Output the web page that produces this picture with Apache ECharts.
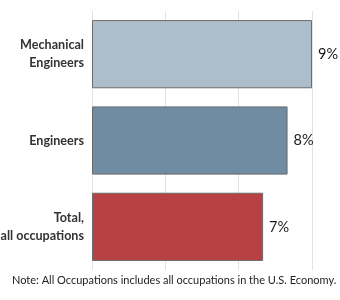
<!DOCTYPE html>
<html><head><meta charset="utf-8">
<script src="https://cdn.jsdelivr.net/npm/echarts@6/dist/echarts.min.js"></script>
<style>html,body{margin:0;padding:0;background:#fff}#c{width:340px;height:300px}</style>
</head><body><div id="c"></div>
<script>
const categories = ["Mechanical\nEngineers", "Engineers", "Total,\nall occupations"];
const values = [9, 8, 7];
const colors = ["#aebdca", "#6f8ca3", "#b84144"];
const note = "Note: All Occupations includes all occupations in the U.S. Economy.";

const chart = echarts.init(document.getElementById('c'), null, {renderer: 'canvas'});
chart.setOption({
  animation: false,
  grid: {left: 92, right: 28, top: 11, bottom: 30, containLabel: false, outerBoundsMode: 'none'},
  xAxis: {
    type: 'value', min: 0, max: 9, interval: 3,
    axisLabel: {show: false}, axisLine: {show: false}, axisTick: {show: false},
    splitLine: {show: true, lineStyle: {color: '#e2e2e2', width: 1}}
  },
  yAxis: {
    type: 'category', data: categories, inverse: true,
    axisLine: {show: false}, axisTick: {show: false},
    axisLabel: {fontFamily: 'Lato', fontWeight: 'bold', fontSize: 12.6, color: '#333', lineHeight: 18, margin: 8}
  },
  series: [{
    type: 'bar', barCategoryGap: '21%',
    data: values.map((v, i) => ({value: v, itemStyle: {color: colors[i]}})),
    itemStyle: {borderColor: '#6b6b6b', borderWidth: 1},
    label: {show: true, position: 'right', formatter: '{c}%', fontFamily: 'Lato', fontSize: 14.5, color: '#1a1a1a', distance: 6}
  }],
  graphic: [{
    type: 'text', left: 12, top: 275,
    style: {text: note, fontFamily: 'Lato', fontSize: 11, fill: '#222'}
  }]
});
</script></body></html>
